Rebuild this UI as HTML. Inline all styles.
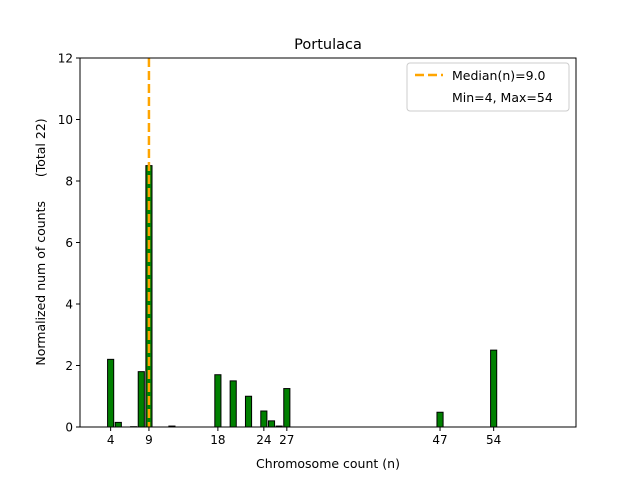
<!DOCTYPE html>
<html><head><meta charset="utf-8"><style>
body{margin:0;background:#fff;font-family:"Liberation Sans","DejaVu Sans",sans-serif}
</style></head><body>
<svg width="640" height="480" xmlns="http://www.w3.org/2000/svg" id="svg" font-family="DejaVu Sans, Liberation Sans, sans-serif">
<text x="328" y="49" font-size="14.5" text-anchor="middle">Portulaca</text>
<g id="bars"></g>
<g id="axes"></g>
<text x="328" y="468" font-size="12.5" text-anchor="middle">Chromosome count (n)</text>
<text transform="translate(45,242) rotate(-90)" font-size="12.5" text-anchor="middle" style="white-space:pre" xml:space="preserve">Normalized num of counts      (Total 22)</text>
<g>
<rect x="407" y="63" width="162" height="48" fill="#fff" stroke="#ccc" rx="3"/>
<line x1="415" y1="75" x2="443" y2="75" stroke="orange" stroke-width="2.5" stroke-dasharray="9,4"/>
<text x="452" y="80" font-size="12.5">Median(n)=9.0</text>
<text x="452" y="102" font-size="12.5">Min=4, Max=54</text>
</g>
</svg>
<script>
const categories=[4,5,7,8,9,12,18,20,22,24,25,26,27,47,54];
const values=[2.2,0.15,0.01,1.8,8.5,0.03,1.7,1.5,1.0,0.52,0.2,0.03,1.25,0.48,2.5];
const xTicks=[4,9,18,24,27,47,54];
const yTicks=[0,2,4,6,8,10,12];
const median=9;
const NS="http://www.w3.org/2000/svg";
const L=80,R=576,T=58,B=427,XMAX=64.75,YMAX=12;
const xs=v=>L+v/XMAX*(R-L);
const ys=v=>B-v/YMAX*(B-T);
function mk(t,a,p){const e=document.createElementNS(NS,t);for(const k in a)e.setAttribute(k,a[k]);p.appendChild(e);return e;}
const bars=document.getElementById('bars'),axes=document.getElementById('axes');
categories.forEach((c,i)=>{
 const w=0.8/XMAX*(R-L);
 const r=mk('rect',{x:xs(c)-w/2,y:ys(values[i]),width:w,height:B-ys(values[i]),fill:'green',stroke:'#000','stroke-width':1},bars);
 
 
});
const ml=mk('line',{x1:xs(median),x2:xs(median),y1:T,y2:B,stroke:'orange','stroke-width':2.5,'stroke-dasharray':'9,4'},bars);


const fr=mk('rect',{x:L,y:T,width:R-L,height:B-T,fill:'none',stroke:'#000','stroke-width':1},axes);


xTicks.forEach(t=>{
 mk('line',{x1:xs(t),x2:xs(t),y1:B,y2:B+4,stroke:'#000'},axes);
 const tx=mk('text',{x:xs(t),y:B+17,'font-size':12,'text-anchor':'middle'},axes);tx.textContent=t;
 
 
});
yTicks.forEach(t=>{
 mk('line',{x1:L-4,x2:L,y1:ys(t),y2:ys(t),stroke:'#000'},axes);
 const tx=mk('text',{x:L-7,y:ys(t)+4.5,'font-size':12,'text-anchor':'end'},axes);tx.textContent=t;
 
 
});
</script>
</body></html>
